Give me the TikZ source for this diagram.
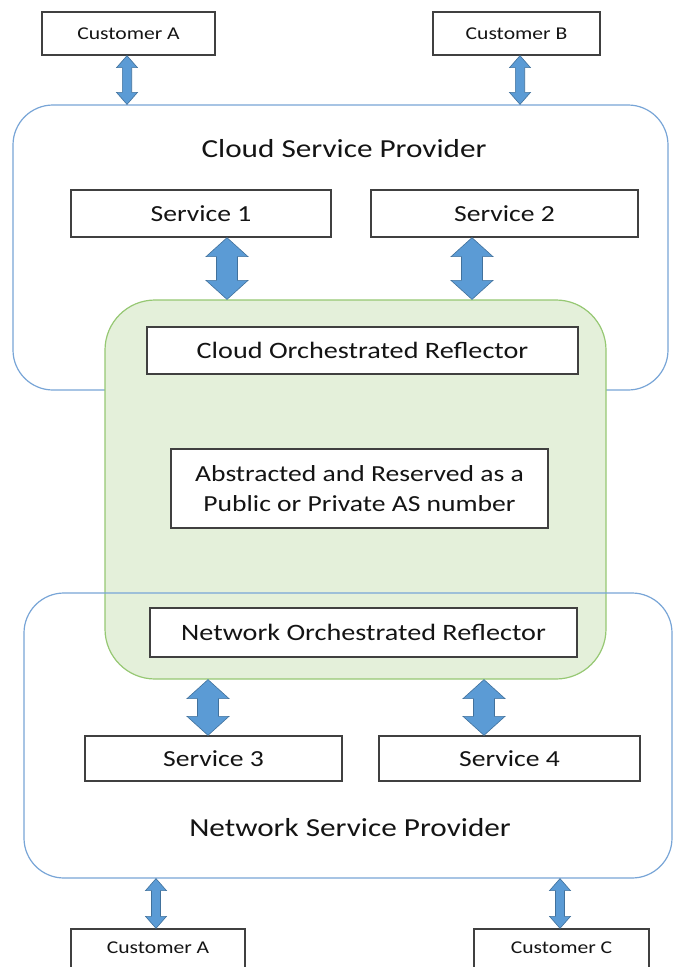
\documentclass[tikz,border=0pt]{standalone}
\usepackage{fontspec}
\setmainfont[FakeStretch=1.2]{Carlito}
\usetikzlibrary{calc}
\definecolor{provline}{RGB}{120,165,215}
\definecolor{greenfill}{RGB}{228,240,218}
\definecolor{greenline}{RGB}{150,200,115}
\definecolor{arrowfill}{RGB}{91,155,213}
\definecolor{arrowline}{RGB}{65,113,156}
\definecolor{boxline}{RGB}{64,64,64}
\definecolor{txt}{RGB}{20,20,20}
\tikzset{
  box/.style={draw=boxline, line width=1.3pt, fill=white, inner sep=0pt, text=txt},
  provider/.style={draw=provline, line width=1.2pt, rounded corners=40pt, inner sep=0pt},
  reflarea/.style={draw=greenline, fill=greenfill, line width=1.2pt, rounded corners=50pt, inner sep=0pt},
  blockarrow/.style={fill=arrowfill, draw=arrowline, line width=0.6pt},
  custfont/.style={font=\fontsize{18}{22}\selectfont},
  servfont/.style={font=\fontsize{23}{28}\selectfont},
  reflfont/.style={font=\fontsize{23.5}{28}\selectfont},
  provfont/.style={font=\fontsize{26}{30}\selectfont, text=txt},
}
% vertical double block arrow: #1 top point, #2 bottom point, #3 shaft half width, #4 head half width, #5 head length
\newcommand\blockarr[5]{%
  \filldraw[blockarrow] let \p1=(#1), \p2=(#2) in
    (\x1,\y1) -- (\x1+#4pt,\y1-#5pt) -- (\x1+#3pt,\y1-#5pt) -- (\x1+#3pt,\y2+#5pt)
    -- (\x1+#4pt,\y2+#5pt) -- (\x1,\y2) -- (\x1-#4pt,\y2+#5pt) -- (\x1-#3pt,\y2+#5pt)
    -- (\x1-#3pt,\y1-#5pt) -- (\x1-#4pt,\y1-#5pt) -- cycle;}
\begin{document}
\begin{tikzpicture}[x=1pt,y=-1pt]
\clip (0,0) rectangle (674,967);
\fill[white] (0,0) rectangle (674,967);
% x positions of the arrows
\coordinate (xA) at (127,0);
\coordinate (xB) at (520,0);
\coordinate (x1) at (227,0);
\coordinate (x2) at (472,0);
\coordinate (x3) at (208,0);
\coordinate (x4) at (484,0);
\coordinate (xA2) at (156,0);
\coordinate (xC) at (560,0);
% top customers
\node[box, custfont, minimum width=173pt, minimum height=43pt] (custA1) at (128.5,33.5) {Customer A};
\node[box, custfont, minimum width=167pt, minimum height=43pt] (custB) at (516.5,33.5) {Customer B};
% cloud service provider
\node[provider, minimum width=655pt, minimum height=285pt] (cloud) at (340.5,247.5) {};
\node[provfont] (cloudlbl) at (344,149) {Cloud Service Provider};
\node[box, servfont, minimum width=260pt, minimum height=47pt] (s1) at (201,213.5) {Service 1};
\node[box, servfont, minimum width=267pt, minimum height=47pt] (s2) at (504.5,213.5) {Service 2};
% green reflector area
\node[reflarea, minimum width=501pt, minimum height=379pt] (green) at (355.5,489.5) {};
\node[box, reflfont, minimum width=431pt, minimum height=47pt] (cor) at (362.5,350.5) {Cloud Orchestrated Reflector};
\node[box, font=\fontsize{23}{30}\selectfont, align=center, minimum width=377pt, minimum height=79pt] (abs) at (359.5,488.5) {Abstracted and Reserved as a\\Public or Private AS number};
% network service provider
\node[provider, minimum width=648pt, minimum height=285pt] (net) at (348,735.5) {};
\node[box, reflfont, minimum width=427pt, minimum height=49pt] (nor) at (363.5,632.5) {Network Orchestrated Reflector};
\node[provfont] (netlbl) at (350,828) {Network Service Provider};
\node[box, servfont, minimum width=257pt, minimum height=45pt] (s3) at (213.5,758.5) {Service 3};
\node[box, servfont, minimum width=261pt, minimum height=45pt] (s4) at (509.5,758.5) {Service 4};
% bottom customers (cut by the edge)
\node[box, custfont, minimum width=174pt, minimum height=60pt, text depth=0pt] (custA2) at (158,959) {};
\node[custfont, text=txt] (custA2t) at (158,948) {Customer A};
\node[box, custfont, minimum width=175pt, minimum height=60pt] (custC) at (561.5,959) {};
\node[custfont, text=txt] (custCt) at (561.5,948) {Customer C};
% arrows
\blockarr{custA1.south -| xA}{cloud.north -| xA}{4.7}{10.5}{12}
\blockarr{custB.south -| xB}{cloud.north -| xB}{4.7}{10.5}{12}
\blockarr{s1.south -| x1}{green.north -| x1}{10.5}{21}{19}
\blockarr{s2.south -| x2}{green.north -| x2}{10.5}{21}{19}
\blockarr{green.south -| x3}{s3.north -| x3}{10.5}{21}{19}
\blockarr{green.south -| x4}{s4.north -| x4}{10.5}{21}{19}
\blockarr{net.south -| xA2}{custA2.north -| xA2}{4.5}{10.5}{12}
\blockarr{net.south -| xC}{custC.north -| xC}{4.5}{10.5}{12}
\end{tikzpicture}
\end{document}
